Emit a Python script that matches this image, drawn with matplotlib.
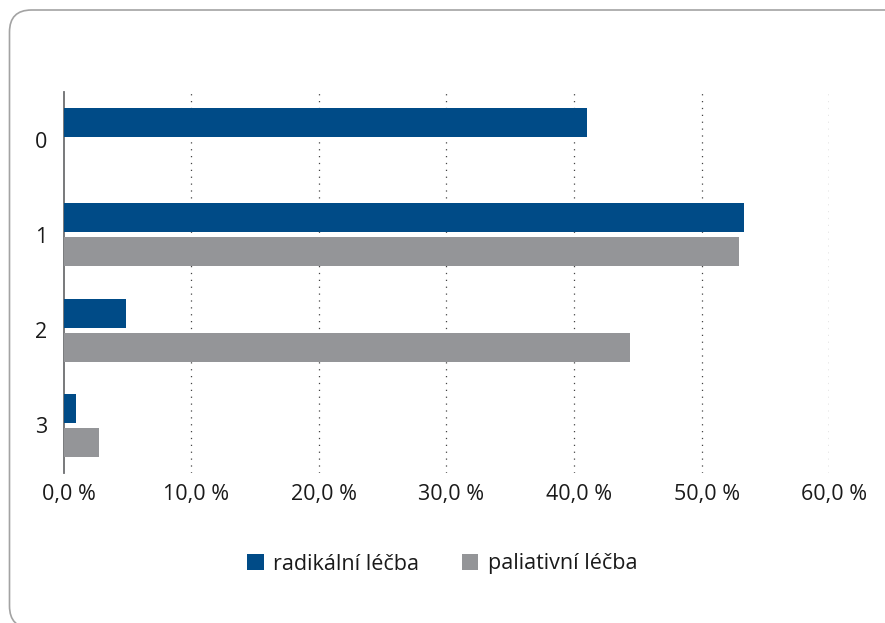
import numpy as np
import matplotlib.pyplot as plt
import matplotlib.transforms as mtransforms
from matplotlib.patches import FancyBboxPatch, Patch

plt.rcParams['font.family'] = ['Open Sans', 'DejaVu Sans']

# Data (% of patients per group)
categories = ['0', '1', '2', '3']
radikalni = [41.0, 53.3, 4.9, 1.0]
paliativni = [0.0, 52.9, 44.4, 2.8]
xticks = [0, 10, 20, 30, 40, 50, 60]
xtick_labels = ['0,0 %', '10,0 %', '20,0 %', '30,0 %', '40,0 %', '50,0 %', '60,0 %']

blue = '#004b87'
grey = '#949598'
text_color = '#1a1a1a'

fig = plt.figure(figsize=(8.85, 6.23), dpi=100)

# rounded frame around the whole chart
frame = FancyBboxPatch((0.095, -0.05), 9.1, 6.18,
                       boxstyle='round,pad=0,rounding_size=0.22',
                       transform=fig.dpi_scale_trans, facecolor='none',
                       edgecolor='#a3a3a3', linewidth=1.2)
fig.patches.append(frame)

ax = fig.add_axes([0.0719, 0.2408, 0.8651, 0.6116])

y = np.arange(len(categories))
h = 0.304
off = 0.178
ax.barh(y - off, radikalni, height=h, color=blue, label='radikální léčba', zorder=3)
ax.barh(y + off, paliativni, height=h, color=grey, label='paliativní léčba', zorder=3)

ax.set_xlim(0, 60)
ax.set_ylim(3.5, -0.5)
ax.set_yticks(y)
ax.set_yticklabels(categories)
ax.set_xticks(xticks)
ax.set_xticklabels(xtick_labels)

# dotted vertical grid
for xv in xticks[1:]:
    ax.axvline(xv, color='#444444', linewidth=0.9, linestyle=(0, (1, 4.5)), zorder=1)

for side in ['top', 'right', 'bottom']:
    ax.spines[side].set_visible(False)
ax.spines['left'].set_color('#6d6e71')
ax.spines['left'].set_linewidth(1.3)

ax.tick_params(axis='both', length=0, labelsize=15.5, colors=text_color)
ax.tick_params(axis='y', pad=12)
ax.tick_params(axis='x', pad=8)

# shift x labels a little to the right
shift = mtransforms.ScaledTranslation(5 / 100, 0, fig.dpi_scale_trans)
for lbl in ax.get_xticklabels():
    lbl.set_transform(lbl.get_transform() + shift)

handles = [Patch(facecolor=blue, edgecolor='none', label='radikální léčba'),
           Patch(facecolor=grey, edgecolor='none', label='paliativní léčba')]
fig.legend(handles=handles, loc='center', bbox_to_anchor=(0.5, 1 - 564 / 623),
           ncol=2, frameon=False, fontsize=15.5, handlelength=0.75, handleheight=0.75,
           handletextpad=0.45, columnspacing=2.0, labelcolor=text_color)

fig.savefig('out.png', dpi=100)
